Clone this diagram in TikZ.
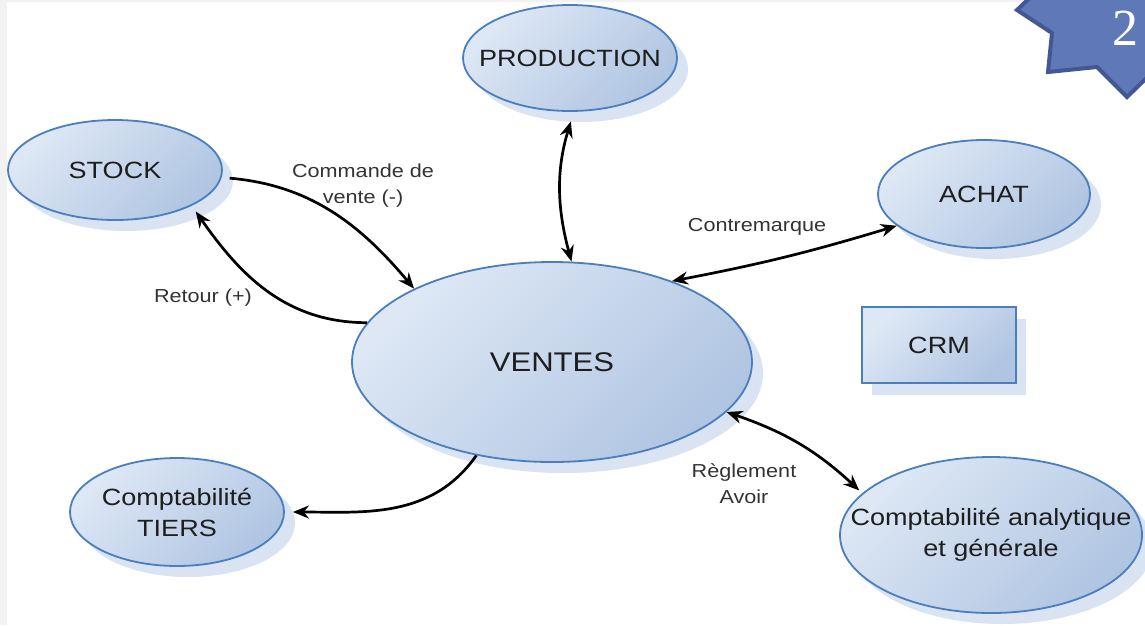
\documentclass[tikz,border=0pt]{standalone}
\usepackage{fontspec}
\usetikzlibrary{shapes.geometric,shadows,arrows.meta}
\newfontfamily\arialx[FakeStretch=1.15]{Liberation Sans}
\newfontfamily\serifdigit{Liberation Serif}
\definecolor{lightc}{HTML}{DEE8F5}
\definecolor{darkc}{HTML}{B0C5E2}
\definecolor{borderc}{HTML}{4A7EBE}
\definecolor{shadowc}{HTML}{D9E3F1}
\definecolor{txtc}{HTML}{1E1E1E}
\definecolor{lblc}{HTML}{333333}
\definecolor{starfill}{HTML}{5F78B8}
\definecolor{starline}{HTML}{435892}
\definecolor{edgegray}{HTML}{F2F2F2}
\tikzset{
  blob/.style={ellipse, draw=borderc, line width=1.8pt, inner ysep=0pt, inner xsep=-40pt,
    top color=lightc, bottom color=darkc, shading angle=45,
    drop shadow={shadow xshift=11pt, shadow yshift=-11pt, fill=shadowc, opacity=1},
    text=txtc, align=center, font=\arialx\fontsize{23.5}{31}\selectfont},
  boxnode/.style={rectangle, draw=borderc, line width=1.8pt, inner sep=0pt,
    top color=lightc, bottom color=darkc, shading angle=45,
    drop shadow={shadow xshift=10pt, shadow yshift=-12pt, fill=shadowc, opacity=1},
    text=txtc, align=center, font=\arialx\fontsize{23.5}{31}\selectfont},
  lbl/.style={text=lblc, align=center, inner sep=0pt, font=\arialx\fontsize{18.8}{26}\selectfont},
  arr/.style={line width=2.7pt, black, -{Stealth[length=16pt,width=13pt]}},
  dbl/.style={line width=2.7pt, black, {Stealth[length=16pt,width=13pt]}-{Stealth[length=16pt,width=13pt]}}
}
\begin{document}
\begin{tikzpicture}[x=1pt,y=1pt]
\useasboundingbox (0,0) rectangle (1145,-625);
\fill[white] (0,0) rectangle (1145,-625);
\fill[edgegray] (0,0) rectangle (7,-625);
\fill[edgegray] (0,0) rectangle (1145,-2);

% star badge
\draw[fill=starfill, draw=starline, line width=4pt, line join=miter]
  (1040,12) -- (1017,-10) -- (1052,-33) -- (1048,-72) -- (1097,-67) -- (1127,-97)
  -- (1165,-60) -- (1165,12) -- cycle;
\node[anchor=base west, inner sep=0pt, text=white, font=\serifdigit\fontsize{52}{52}\selectfont] (two) at (1112,-45) {2};

% nodes
\node[blob, minimum width=214pt, minimum height=100pt] (stock) at (115,-170) {STOCK};
\node[blob, minimum width=214pt, minimum height=106pt] (production) at (570,-58) {PRODUCTION};
\node[blob, minimum width=212pt, minimum height=108pt] (achat) at (984,-194) {ACHAT};
\node[blob, minimum width=400pt, minimum height=200pt, font=\arialx\fontsize{27}{31}\selectfont] (ventes) at (552,-362) {VENTES};
\node[blob, minimum width=214pt, minimum height=108pt] (tiers) at (177,-512) {Comptabilité\\TIERS};
\node[blob, minimum width=302pt, minimum height=156pt] (analyt) at (991,-535) {Comptabilité analytique\\et générale};
\node[boxnode, minimum width=154pt, minimum height=76pt] (crm) at (939,-345) {CRM};

% connectors
\draw[arr, shorten <=8pt] (stock.-4) to[out=-5, in=130] (ventes.152);
\draw[arr, shorten >=7pt] (ventes.168) to[out=180, in=-55] (stock.-25);
\draw[dbl, shorten <=10pt] (production.-86) to[bend right=16] (ventes.79);
\draw[dbl] (ventes.34) to[bend right=3] (achat.-160);
\draw[dbl, shorten >=4pt] (ventes.-16) to[bend left=12] (analyt.162);
\draw[arr, shorten >=8pt] (ventes.-129) to[out=-125, in=0] (tiers.east);

% labels
\node[lbl] (lcmd) at (363,-186) {Commande de\\vente (-)};
\node[lbl] (lret) at (203,-298) {Retour (+)};
\node[lbl] (lctr) at (757,-227) {Contremarque};
\node[lbl] (lreg) at (744,-484) {Règlement\\Avoir};
\end{tikzpicture}
\end{document}
